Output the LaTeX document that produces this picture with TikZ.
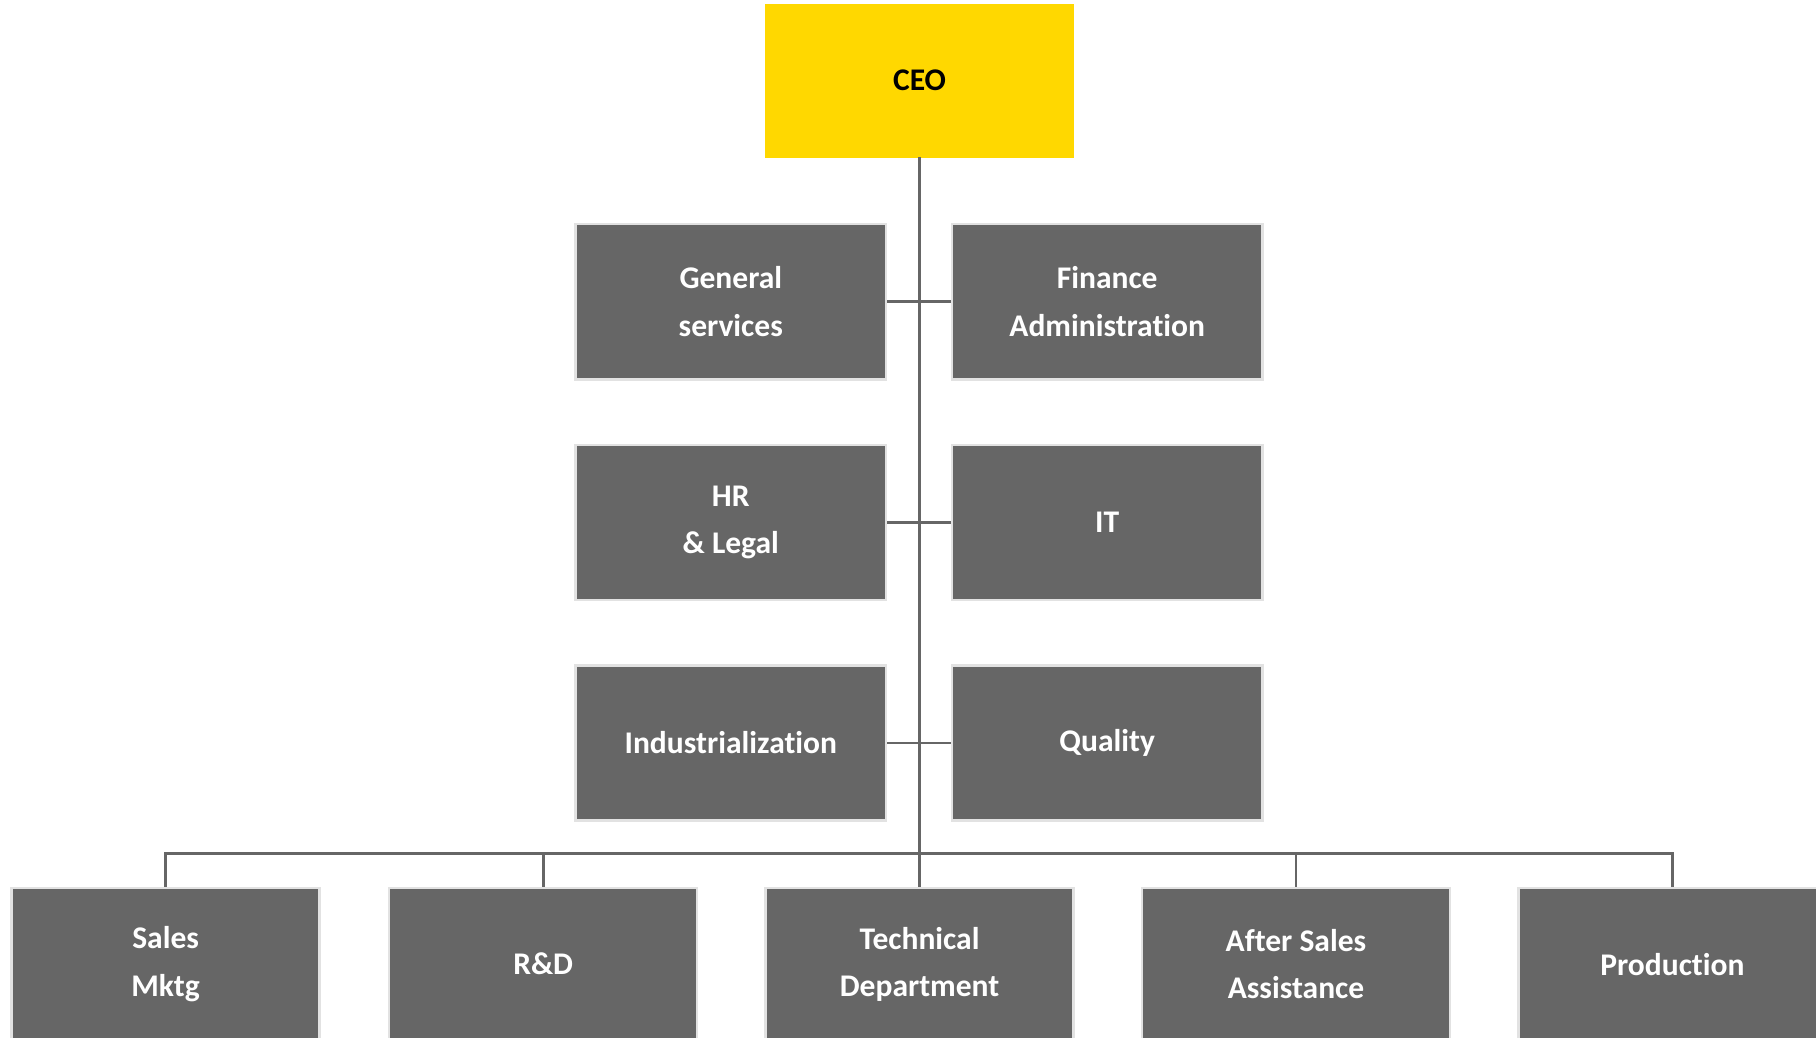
\documentclass[tikz,border=0pt]{standalone}
\usepackage{fontspec}
\setmainfont[Ligatures=NoCommon]{Carlito}
\usepackage{tikz}

\definecolor{boxgray}{HTML}{666666}
\definecolor{edgegray}{HTML}{E2E2E2}
\definecolor{ceoyellow}{HTML}{FFD800}

\tikzset{
    unit/.style={draw=edgegray, line width=1.2pt, fill=boxgray, text=white,
        minimum width=266*0.02cm, minimum height=132*0.02cm, inner sep=0pt,
        align=center, font=\bfseries\fontsize{15.5}{23.3}\selectfont},
    staff/.style={unit, minimum width=268*0.02cm, minimum height=134*0.02cm},
    ceobox/.style={unit, fill=ceoyellow, draw=ceoyellow, line width=0.4pt, text=black},
    link/.style={draw=boxgray, line width=1.4pt}
}

\begin{document}
\begin{tikzpicture}[x=0.02cm, y=0.02cm]
    \clip (0,0) rectangle (1568,896);
    \fill[white] (0,0) rectangle (1568,896);

    % top
    \node[ceobox] (ceo) at (794,826.5) {CEO};

    % staff boxes
    \node[staff] (gen)  at (631,635.5) {General\\services};
    \node[staff] (fin)  at (956,635.5) {Finance\\Administration};
    \node[staff] (hr)   at (631,445)   {HR\\\& Legal};
    \node[staff] (it)   at (956,445)   {IT};
    \node[staff] (ind)  at (631,254.5) {Industrialization};
    \node[staff] (qual) at (956,254.5) {Quality};

    % line departments
    \node[unit] (sales) at (143,63.5)  {Sales\\Mktg};
    \node[unit] (rd)    at (469,63.5)  {R\&D};
    \node[unit] (tech)  at (794,63.5)  {Technical\\Department};
    \node[unit] (after) at (1119,63.5) {After Sales\\Assistance};
    \node[unit] (prod)  at (1444,63.5) {Production};

    % connectors
    \draw[link] (ceo.south) -- (tech.north);
    \draw[link] (gen.east) -- (fin.west);
    \draw[link] (hr.east) -- (it.west);
    \draw[link] (ind.east) -- (qual.west);

    \coordinate (bus) at (0,159); % horizontal bus
    \draw[link] (sales.north) -- (sales.north |- bus) -- (prod.north |- bus) -- (prod.north);
    \draw[link] (rd.north) -- (rd.north |- bus);
    \draw[link] (after.north) -- (after.north |- bus);
\end{tikzpicture}
\end{document}
